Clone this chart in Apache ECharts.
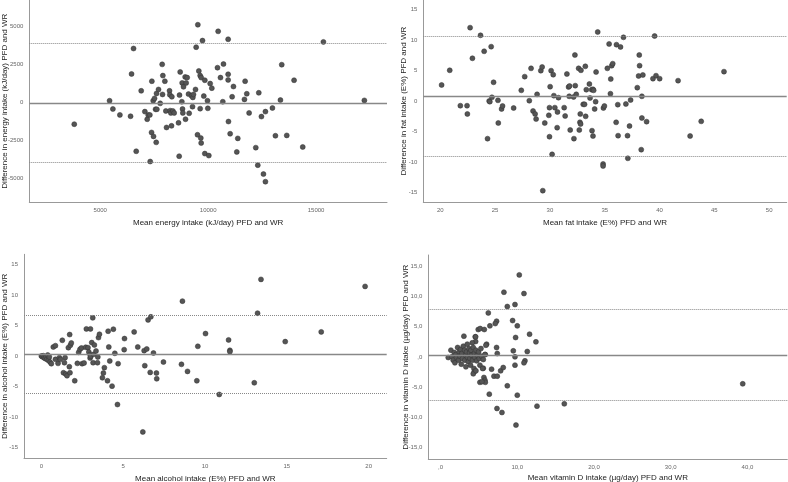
<!DOCTYPE html>
<html><head><meta charset="utf-8">
<script src="https://cdn.jsdelivr.net/npm/echarts@6/dist/echarts.min.js"></script>
<style>html,body{margin:0;padding:0;background:#fff}#c{width:788px;height:482px}</style>
</head><body><div id="c"></div><script>
// ---- Energy (kJ/day)
const energyX = [3796,5432,5586,5910,6404,6451,6543,6667,6898,7068,7176,7222,7299,7315,7377,7392,7454,7469,7515,7562,7593,7608,7623,7700,7778,7870,7886,7901,7994,8040,8071,8210,8225,8241,8272,8302,8318,8364,8426,8627,8657,8673,8704,8781,8796,8812,8827,8858,8935,8951,8981,9028,9090,9120,9228,9275,9290,9321,9414,9444,9506,9522,9568,9630,9630,9660,9676,9676,9738,9799,9846,9846,9969,9985,10031,10093,10170,10432,10463,10571,10679,10710,10926,10926,10926,10941,11019,11111,11173,11327,11373,11682,11713,11790,11898,12207,12300,12346,12469,12562,12654,12654,12978,13117,13349,13410,13642,13981,14383,15340,17238];
const energyY = [-1413,130,-413,-804,-891,1891,3565,-3196,783,-587,-1087,-804,-804,-3870,-1957,1413,130,-2217,283,-435,-2609,609,-435,870,-43,2522,543,1783,1413,-543,-1630,783,522,-522,-674,-1522,391,-543,-674,-1326,-3522,500,2022,65,1304,-413,-674,1043,1696,-1087,1304,1652,565,-696,457,-261,348,543,870,3652,-2109,5130,2087,1783,-391,-2326,-2652,1652,4087,435,1478,-3348,130,-370,-3478,1261,957,2304,4696,1652,65,2543,4174,1870,1500,-1239,-2043,391,1065,-3239,-2348,217,1413,587,-674,-2957,-4109,652,-913,-4696,-587,-5196,-348,-2174,174,2500,-2152,1478,-2913,4000,152];
const energyLines = [-40, 3880, -3920];
const energyXTicks = [5000,10000,15000];
const energyYTicks = [-5000,-2500,0,2500,5000];

// ---- Fat (E%)
const fatX = [20.12,20.86,21.83,22.44,22.47,22.72,22.93,23.67,24.00,24.31,24.46,24.52,24.64,24.71,24.86,25.26,25.29,25.59,25.68,26.69,27.39,27.70,28.12,28.28,28.46,28.65,28.74,28.83,29.17,29.29,29.35,29.53,29.90,29.96,29.96,30.02,30.11,30.20,30.30,30.36,30.45,30.66,30.69,30.78,31.30,31.39,31.55,31.70,31.76,31.79,31.85,32.16,32.19,32.28,32.31,32.40,32.62,32.68,32.74,32.77,32.80,32.83,33.04,33.16,33.23,33.26,33.32,33.60,33.66,33.81,33.84,33.93,33.93,33.99,34.08,34.17,34.21,34.36,34.85,34.85,34.88,34.97,35.24,35.40,35.52,35.55,35.64,35.73,36.04,36.07,36.19,36.22,36.44,36.71,36.93,37.08,37.11,37.26,37.36,37.97,38.09,38.15,38.18,38.33,38.39,38.39,38.48,38.82,39.40,39.55,39.68,40.01,41.69,42.79,43.80,45.88];
const fatY = [2.63,5.04,-0.77,-0.77,-2.13,12.04,7.01,10.78,8.16,-6.18,0.0,-0.11,8.92,0.60,3.07,0.11,-3.61,-1.31,-0.82,-1.15,1.75,4.00,0.05,5.36,-1.64,-2.13,-2.96,1.09,4.98,5.58,-14.72,-3.61,-2.35,-1.09,-5.86,2.35,4.98,-8.76,4.32,0.88,-1.09,-4.38,-1.81,0.55,-1.09,-2.46,4.43,2.30,0.77,2.46,-4.76,0.66,-6.18,7.55,2.52,1.09,5.36,-4.76,-3.50,-2.13,-3.78,5.04,-0.55,-0.55,5.69,-2.52,1.86,2.79,0.49,1.86,-4.87,-5.75,1.92,1.75,-1.31,-0.11,4.76,11.33,-10.34,-10.67,-1.15,-0.82,5.36,9.36,1.20,3.61,5.80,6.13,-3.50,9.25,-0.60,-5.69,8.87,10.45,-0.49,-5.69,-9.41,-4.11,0.16,2.19,4.11,7.55,5.80,-7.99,0.77,-2.79,4.27,-3.39,3.67,10.67,4.16,3.67,3.34,-5.75,-3.34,4.82];
const fatLines = [0.77, 10.67, -9.08];
const fatXTicks = [20,25,30,35,40,45,50];
const fatYTicks = [-15,-10,-5,0,5,10,15];

// ---- Alcohol (E%)
const alcX = [0,0.06,0.12,0.16,0.22,0.29,0.33,0.39,0.43,0.49,0.53,0.61,0.73,0.86,0.86,1.02,1.10,1.16,1.28,1.35,1.41,1.45,1.49,1.57,1.65,1.71,1.73,1.75,1.77,1.83,2.04,2.20,2.28,2.36,2.45,2.49,2.61,2.71,2.75,2.85,2.90,2.98,2.98,3.00,3.02,3.08,3.14,3.16,3.20,3.24,3.34,3.43,3.45,3.49,3.55,3.73,3.79,3.85,4.04,4.08,4.12,4.18,4.32,4.40,4.49,4.65,4.69,5.08,5.06,5.67,5.89,6.20,6.28,6.32,6.44,6.52,6.65,6.69,6.85,7.03,7.05,7.46,8.56,8.62,8.93,9.50,9.56,10.03,10.87,11.44,11.52,11.52,13.01,13.21,13.42,14.90,17.10,19.78];
const alcY = [0,-0.11,0.05,-0.27,-0.38,-0.16,-0.55,0.16,-0.71,-0.16,-0.99,-1.26,1.48,1.70,-0.55,-1.21,-0.27,-0.55,2.58,-2.75,-1.10,-0.27,-2.97,-3.24,1.37,-1.76,3.52,-2.75,1.76,2.14,-4.07,-1.21,0.60,1.10,1.32,-1.26,-1.15,1.43,4.45,1.37,0.66,0.22,-0.33,4.45,-0.05,2.20,6.26,-1.10,0.27,1.81,0.82,-1.10,-0.16,3.02,3.57,-3.57,-2.80,-1.92,-4.07,4.07,1.48,-0.82,-4.95,4.40,0.44,-7.97,-1.26,2.86,1.04,3.96,1.48,-12.47,0.88,-1.59,1.15,5.93,-2.69,6.43,0.49,-2.80,-3.74,-0.99,-1.37,9.01,-2.53,-4.07,1.59,3.68,-6.32,2.64,0.93,0.71,-4.40,7.03,12.58,2.36,3.96,11.43];
const alcLines = [0.28, 6.74, -6.14];
const alcXTicks = [0,5,10,15,20];
const alcYTicks = [-15,-10,-5,0,5,10,15];

// ---- Vitamin D (µg/day)
const vitX = [10.26,8.26,10.87,8.70,9.70,6.22,9.39,7.30,7.13,6.43,10.0,4.91,5.17,5.70,11.6,3.04,4.52,9.78,12.43,6.0,4.57,7.30,9.48,7.39,11.30,9.70,5.83,6.65,5.57,7.83,8.17,9.70,11.0,10.87,6.96,7.39,5.65,5.78,5.83,5.13,5.39,6.35,8.70,10.0,7.35,8.0,9.83,12.57,16.13,39.39,
 1.0,1.35,1.48,1.65,1.78,1.87,2.0,2.09,2.22,2.35,2.43,2.52,2.61,2.70,2.78,2.87,2.96,3.13,3.17,3.26,3.30,3.39,3.48,3.52,3.61,3.70,3.78,3.83,3.91,3.96,4.04,4.13,4.17,4.26,4.35,4.39,4.43,4.48,4.61,4.70,4.78,4.96,5.04,5.13,5.26,5.35,5.48,5.57,5.78,5.91,4.26,4.61,4.57];
const vitY = [13.52,10.66,10.44,8.30,8.63,7.25,5.99,5.88,5.49,5.11,5.11,4.51,4.67,4.51,3.74,3.41,3.30,3.19,2.47,2.09,2.53,1.54,0.99,0.55,0.88,0,0.38,-2.03,-1.87,-2.31,-1.76,-1.37,-0.66,-0.99,-3.19,-3.19,-3.40,-3.85,-4.20,-4.20,-4.10,-6.15,-4.78,-6.32,-8.52,-9.18,-11.26,-8.13,-7.75,-4.45,
 -0.11,1.10,0,-0.55,0.71,-0.99,0.38,-0.11,1.54,-0.55,0.82,0.11,1.21,-1.21,0.55,-0.27,1.76,1.10,-0.55,0.27,-1.65,0.82,2.09,-0.11,-0.82,1.37,0.66,-0.27,-1.37,1.10,0.27,2.31,-0.55,1.54,-1.92,-2.47,0.55,-0.11,1.10,-0.66,0.27,0.82,-0.27,-1.37,1.37,0.11,-1.92,-0.44,0.38,1.92,-2.8,-2.3,3.3];
const vitLines = [0.33, 7.8, -7.09];
const vitXTicks = [0,10,20,30,40];
const vitYTicks = [-15,-10,-5,0,5,10,15];

const xTitles = ['Mean energy intake (kJ/day) PFD and WR','Mean fat intake (E%) PFD and WR','Mean alcohol intake (E%) PFD and WR','Mean vitamin D intake (µg/day) PFD and WR'];
const yTitles = ['Difference in energy intake (kJ/day) PFD and WR','Difference in fat intake (E%) PFD and WR','Difference in alcohol intake (E%) PFD and WR','Difference in vitamin D intake (µg/day) PFD and WR'];

const panels = [
  {x:energyX,y:energyY,lines:energyLines,xt:energyXTicks,yt:energyYTicks,xr:[1713,18287],yr:[-6553,6757],grid:{left:29.3,top:0,right:401,bottom:279.7},fmt:v=>String(v),yTitleX:5,xTitleY:222.7},
  {x:fatX,y:fatY,lines:fatLines,xt:fatXTicks,yt:fatYTicks,xr:[18.45,51.6],yr:[-16.63,16.58],grid:{left:423.3,top:0,right:1.3,bottom:279.7},fmt:v=>String(v),yTitleX:404,xTitleY:222.7},
  {x:alcX,y:alcY,lines:alcLines,xt:alcXTicks,yt:alcYTicks,xr:[-1.06,21.1],yr:[-16.8,16.7],grid:{left:24,top:254.3,right:401.3,bottom:23.7},fmt:v=>String(v),yTitleX:5,xTitleY:479},
  {x:vitX,y:vitY,lines:vitLines,xt:vitXTicks,yt:vitYTicks,xr:[-1.6,45.2],yr:[-16.9,16.8],grid:{left:428.3,top:255,right:0.7,bottom:22.7},fmt:v=>(v===0?',0':(String(v)+',0')),yTitleX:406,xTitleY:478}
];

const FONT = 'Liberation Sans, Arial, sans-serif';
const option = {animation:false, grid:[], xAxis:[], yAxis:[], series:[], graphic:[]};
panels.forEach((p,i)=>{
  option.grid.push(Object.assign({containLabel:false}, p.grid));
  const lbl = {fontSize:6, color:'#666', fontFamily:FONT, formatter:p.fmt};
  option.xAxis.push({type:'value', gridIndex:i, min:p.xr[0], max:p.xr[1], splitLine:{show:false},
    axisLine:{show:true, onZero:false, lineStyle:{color:'#999', width:1}}, axisTick:{show:false},
    axisLabel:Object.assign({customValues:p.xt, margin:5}, lbl)});
  option.yAxis.push({type:'value', gridIndex:i, min:p.yr[0], max:p.yr[1], splitLine:{show:false},
    axisLine:{show:true, onZero:false, lineStyle:{color:'#999', width:1}}, axisTick:{show:false},
    axisLabel:Object.assign({customValues:p.yt, margin:6}, lbl)});
  option.series.push({type:'scatter', xAxisIndex:i, yAxisIndex:i, symbolSize:5,
    itemStyle:{color:'#555', borderColor:'#333', borderWidth:0.5, opacity:1},
    data:p.x.map((v,k)=>[v,p.y[k]]),
    markLine:{silent:true, symbol:'none', label:{show:false}, animation:false,
      data:[
        {yAxis:p.lines[0], lineStyle:{type:'solid', color:'#888', width:1.3}},
        {yAxis:p.lines[1], lineStyle:{type:'dotted', color:'#888', width:1}},
        {yAxis:p.lines[2], lineStyle:{type:'dotted', color:'#888', width:1}}
      ]}
  });
  const gl = p.grid.left, gr = 788 - p.grid.right, gt = p.grid.top, gb = 482 - p.grid.bottom;
  option.graphic.push({type:'text', x:(gl+gr)/2, y:p.xTitleY,
    style:{text:xTitles[i], font:'8px '+FONT, fill:'#222', align:'center', verticalAlign:'middle'}});
  option.graphic.push({type:'text', x:p.yTitleX, y:(gt+gb)/2, rotation:Math.PI/2,
    style:{text:yTitles[i], font:'8px '+FONT, fill:'#222', align:'center', verticalAlign:'middle'}});
});
const chart = echarts.init(document.getElementById('c'), null, {renderer:'canvas'});
chart.setOption(option);
</script></body></html>
